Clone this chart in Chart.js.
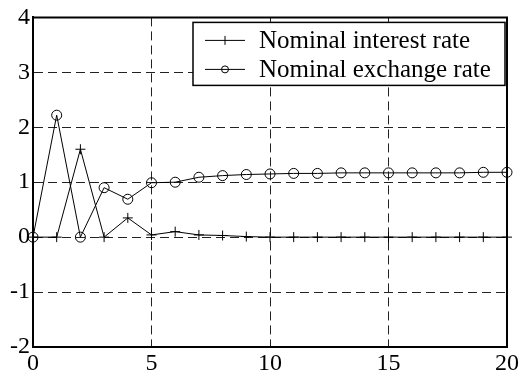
<!DOCTYPE html>
<html>
<head>
<meta charset="utf-8">
<script src="https://cdn.jsdelivr.net/npm/chart.js@4/dist/chart.umd.min.js"></script>
<style>
  html, body { margin: 0; padding: 0; background: #fff; }
  #wrap { width: 522px; height: 378px; }
</style>
</head>
<body>
<div id="wrap"><canvas id="c" width="522" height="378"></canvas></div>
<script>
// Impulse responses over 20 periods
const periods = [0, 1, 2, 3, 4, 5, 6, 7, 8, 9, 10, 11, 12, 13, 14, 15, 16, 17, 18, 19, 20];
const interestRate = [0, 0, 1.6, 0, 0.35, 0.04, 0.1, 0.04, 0.03, 0.01, 0, 0, 0, 0, 0, 0, 0, 0, 0, 0, 0];
const exchangeRate = [0, 2.22, 0, 0.9, 0.69, 0.99, 1.0, 1.09, 1.12, 1.14, 1.15, 1.16, 1.16, 1.17, 1.17, 1.17, 1.17, 1.17, 1.17, 1.18, 1.18];
const seriesNames = ['Nominal interest rate', 'Nominal exchange rate'];
const xTicks = [0, 5, 10, 15, 20];
const yTicks = [-2, -1, 0, 1, 2, 3, 4];

const SERIF = '"Liberation Serif", "Times New Roman", serif';
const toPoints = ys => periods.map((p, i) => ({ x: p, y: ys[i] }));

// Top and right edges of the plot frame
const framePlugin = {
  id: 'frame',
  afterDraw(chart) {
    const { ctx, chartArea: a } = chart;
    ctx.save();
    ctx.strokeStyle = '#000';
    ctx.lineWidth = 2;
    ctx.beginPath();
    ctx.moveTo(a.left, a.top);
    ctx.lineTo(a.right, a.top);
    ctx.lineTo(a.right, a.bottom);
    ctx.stroke();
    ctx.restore();
  }
};

// Boxed legend with line-and-marker samples in the upper right
const boxLegend = {
  id: 'boxLegend',
  afterDraw(chart) {
    const { ctx, chartArea: a } = chart;
    const right = a.right - 2, top = a.top + 5;
    const w = 312, h = 63;
    const left = right - w;
    ctx.save();
    ctx.fillStyle = '#fff';
    ctx.fillRect(left, top, w, h);
    ctx.strokeStyle = '#000';
    ctx.lineWidth = 1.5;
    ctx.strokeRect(left, top, w, h);
    ctx.font = '25px ' + SERIF;
    ctx.fillStyle = '#000';
    ctx.textBaseline = 'alphabetic';
    chart.data.datasets.forEach((ds, i) => {
      const ly = top + 18 + i * 29;
      const x0 = left + 12, x1 = left + 52, xm = (x0 + x1) / 2;
      ctx.strokeStyle = '#000';
      ctx.lineWidth = 1;
      ctx.beginPath();
      ctx.moveTo(x0, ly);
      ctx.lineTo(x1, ly);
      ctx.stroke();
      ctx.beginPath();
      if (ds.pointStyle === 'circle') {
        ctx.arc(xm, ly, 3.5, 0, Math.PI * 2);
      } else {
        ctx.moveTo(xm, ly - 4.5);
        ctx.lineTo(xm, ly + 4.5);
      }
      ctx.stroke();
      ctx.fillText(ds.label, left + 66, ly + 8);
    });
    ctx.restore();
  }
};

const gridColor = ctx => {
  const v = ctx.tick && ctx.tick.value;
  const s = ctx.scale;
  return (v === s.min || v === s.max) ? 'rgba(0,0,0,0)' : '#222';
};

new Chart(document.getElementById('c'), {
  type: 'line',
  data: {
    datasets: [
      {
        label: seriesNames[0],
        data: toPoints(interestRate),
        borderColor: '#000',
        borderWidth: 1,
        pointStyle: 'cross',
        pointRadius: 5,
        pointBorderWidth: 1,
        pointBorderColor: '#000',
        backgroundColor: 'rgba(0,0,0,0)',
        tension: 0,
        clip: false
      },
      {
        label: seriesNames[1],
        data: toPoints(exchangeRate),
        borderColor: '#000',
        borderWidth: 1,
        pointStyle: 'circle',
        pointRadius: 5,
        pointBorderWidth: 1,
        pointBorderColor: '#000',
        pointBackgroundColor: 'rgba(0,0,0,0)',
        backgroundColor: 'rgba(0,0,0,0)',
        tension: 0,
        clip: false
      }
    ]
  },
  options: {
    responsive: false,
    animation: false,
    events: [],
    layout: { padding: { top: 15, right: 15, left: 0, bottom: 0 } },
    plugins: { legend: { display: false }, tooltip: { enabled: false } },
    scales: {
      x: {
        type: 'linear',
        min: 0,
        max: 20,
        afterFit: s => { s.height = 31; },
        afterBuildTicks: s => { s.ticks = xTicks.map(v => ({ value: v })); },
        grid: { color: gridColor, lineWidth: 1, drawTicks: false },
        border: { display: true, color: '#000', width: 2, dash: [9, 5] },
        ticks: {
          color: '#000',
          font: { family: SERIF, size: 24 },
          padding: 2,
          maxRotation: 0,
          autoSkip: false
        }
      },
      y: {
        type: 'linear',
        min: -2,
        max: 4,
        afterFit: s => { s.width = 33; },
        afterBuildTicks: s => { s.ticks = yTicks.map(v => ({ value: v })); },
        grid: { color: gridColor, lineWidth: 1, drawTicks: false },
        border: { display: true, color: '#000', width: 2, dash: [9, 5] },
        ticks: {
          color: '#000',
          font: { family: SERIF, size: 24 },
          padding: 3,
          autoSkip: false
        }
      }
    }
  },
  plugins: [framePlugin, boxLegend]
});
</script>
</body>
</html>
